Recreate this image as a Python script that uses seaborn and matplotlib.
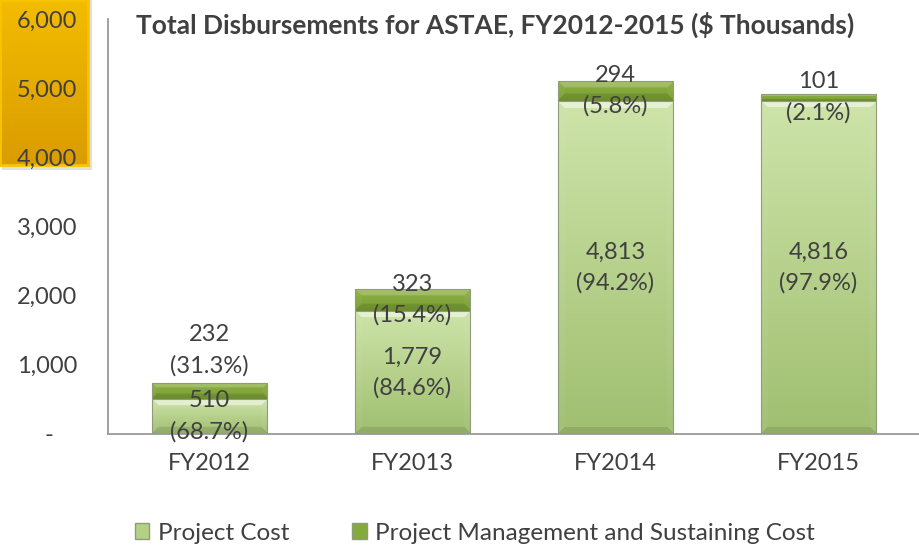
import numpy as np
import pandas as pd
import matplotlib
matplotlib.use("Agg")
import matplotlib.pyplot as plt
import seaborn as sns
from matplotlib.colors import to_rgb
from matplotlib.patches import Patch, Rectangle

# ---------------- data ----------------
years = ["FY2012", "FY2013", "FY2014", "FY2015"]
project_cost = [510, 1779, 4813, 4816]
mgmt_cost = [232, 323, 294, 101]
project_pct = ["68.7%", "84.6%", "94.2%", "97.9%"]
mgmt_pct = ["31.3%", "15.4%", "5.8%", "2.1%"]
series_names = ["Project Cost", "Project Management and Sustaining Cost"]
title = "Total Disbursements for ASTAE, FY2012-2015 ($ Thousands)"
y_ticks = [0, 1000, 2000, 3000, 4000, 5000, 6000]

# ---------------- style ----------------
sns.set_theme(style="white")
plt.rcParams["font.family"] = ["Lato", "DejaVu Sans"]
TXT = "#404040"
LIGHT_TOP, LIGHT_BOT = "#CEE4AA", "#A0BF70"
DARK_TOP, DARK_BOT = "#8FB244", "#779D32"
LIGHT = "#B4D185"
DARK = "#84AA3C"
EDGE = "#8E9C7A"
FS = 17
mgmt_label_offset = [470, 0, 0, 0]  # FY2012 label sits above the bar

df = pd.DataFrame({"year": years, "project": project_cost, "mgmt": mgmt_cost})
df["total"] = df["project"] + df["mgmt"]

fig = plt.figure(figsize=(9.2, 5.45), dpi=100)
ax = fig.add_axes([108 / 920, 1 - 434 / 545, 1 - 108 / 920, (434 - 19) / 545])
ax.set_facecolor("none")

sns.barplot(data=df, x="year", y="total", color=DARK, saturation=1, width=0.57,
            ax=ax, edgecolor=EDGE, linewidth=0.8)
sns.barplot(data=df, x="year", y="project", color=LIGHT, saturation=1, width=0.57,
            ax=ax, edgecolor=EDGE, linewidth=0.8)
ax.set_xlim(-0.5, 3.5)
ax.set_ylim(0, 6000)

patches = list(ax.patches)
dark_patches = patches[:4]
light_patches = patches[4:8]
for p, pr, mg in zip(dark_patches, project_cost, mgmt_cost):
    p.set_y(pr)
    p.set_height(mg)


def bevel(patch, ctop, cbot, z, top_light):
    x0, y0 = patch.get_x(), patch.get_y()
    w, h = patch.get_width(), patch.get_height()
    (px0, py0), (px1, py1) = ax.transData.transform([(x0, y0), (x0 + w, y0 + h)])
    W = max(int(round(px1 - px0)), 2)
    H = max(int(round(py1 - py0)), 2)
    c0 = np.array(to_rgb(ctop))
    c1 = np.array(to_rgb(cbot))
    ii, jj = np.mgrid[0:H, 0:W]
    dt = ii + 0.5
    db = H - ii - 0.5
    dl = jj + 0.5
    dr = W - jj - 0.5
    t = (ii / max(H - 1, 1))[..., None]
    img = c0 * (1 - t) + c1 * t
    b = min(7, H / 3)
    stack = np.stack([dt, db, dl, dr])
    m = stack.min(axis=0)
    which = stack.argmin(axis=0)
    band = m < b
    top = band & (which == 0)
    bot = band & (which == 1)
    side = band & (which >= 2)
    img[top] = img[top] + (1 - img[top]) * top_light
    img[side] = img[side] * 0.95 + 0.05 * np.array([1, 1, 1]) * 0.9
    img[bot] = img[bot] * 0.9
    img = np.clip(img, 0, 1)
    im = ax.imshow(img, extent=(x0, x0 + w, y0, y0 + h), origin="upper",
                   aspect="auto", interpolation="bilinear", zorder=z)
    im.set_clip_path(patch)
    patch.set_facecolor("none")
    patch.set_zorder(z + 0.05)


for p in dark_patches:
    bevel(p, DARK_TOP, DARK_BOT, 2.0, 0.2)
for p in light_patches:
    bevel(p, LIGHT_TOP, LIGHT_BOT, 2.2, 0.5)

ax.set_xlim(-0.5, 3.5)
ax.set_ylim(0, 6000)

# labels
for i in range(len(years)):
    ax.text(i, project_cost[i] / 2, f"{project_cost[i]:,}\n({project_pct[i]})",
            ha="center", va="center", fontsize=FS, linespacing=1.55, color=TXT, zorder=10)
    ytop = project_cost[i] + mgmt_cost[i] / 2
    if mgmt_label_offset[i]:
        ytop = project_cost[i] + mgmt_cost[i] + mgmt_label_offset[i]
    ax.text(i, ytop, f"{mgmt_cost[i]:,}\n({mgmt_pct[i]})",
            ha="center", va="center", fontsize=FS, linespacing=1.55, color=TXT, zorder=10)

# axes
ax.set_yticks(y_ticks)
ax.set_yticklabels(["-    " if v == 0 else f"{v:,}" for v in y_ticks])
ax.tick_params(axis="y", length=0, pad=22, labelsize=FS, labelcolor=TXT)
ax.tick_params(axis="x", length=0, pad=14, labelsize=FS, labelcolor=TXT)
ax.set_xlabel("")
ax.set_ylabel("")
for s in ["top", "right"]:
    ax.spines[s].set_visible(False)
for s in ["left", "bottom"]:
    ax.spines[s].set_color("#9A9A9A")
    ax.spines[s].set_linewidth(1.3)

fig.text(495 / 920, 1 - 25 / 545, title, ha="center", va="center",
         fontsize=19, fontweight="bold", color=TXT)

# orange box at top-left
shadow = Rectangle((2 / 920, 1 - 170 / 545), 90 / 920, 170 / 545,
                   transform=fig.transFigure, facecolor=(0, 0, 0, 0.12),
                   edgecolor="none", zorder=-3)
fig.patches.append(shadow)
box_ax = fig.add_axes([0, 1 - 165 / 545, 88 / 920, 165 / 545], zorder=-1)
g0 = np.array(to_rgb("#F3BC00"))
g1 = np.array(to_rgb("#DA9C00"))
t = np.linspace(0, 1, 100)[:, None, None]
grad = g0[None, None, :] * (1 - t) + g1[None, None, :] * t
grad = np.repeat(grad, 10, axis=1)
box_ax.imshow(grad, aspect="auto", extent=(0, 1, 0, 1))
box_ax.set_xlim(0, 1)
box_ax.set_ylim(0, 1)
box_ax.set_xticks([])
box_ax.set_yticks([])
for s in box_ax.spines.values():
    s.set_color("#F7C400")
    s.set_linewidth(2)

# legend
handles = [Patch(facecolor=LIGHT, edgecolor=EDGE), Patch(facecolor=DARK, edgecolor=EDGE)]
fig.legend(handles, series_names, loc="center", bbox_to_anchor=(475 / 920, 1 - 533 / 545),
           ncol=2, frameon=False, fontsize=17.5, handlelength=0.6, handleheight=0.6,
           handletextpad=0.35, columnspacing=2.6, labelcolor=TXT, borderaxespad=0, borderpad=0)

fig.savefig("out.png", dpi=100)
